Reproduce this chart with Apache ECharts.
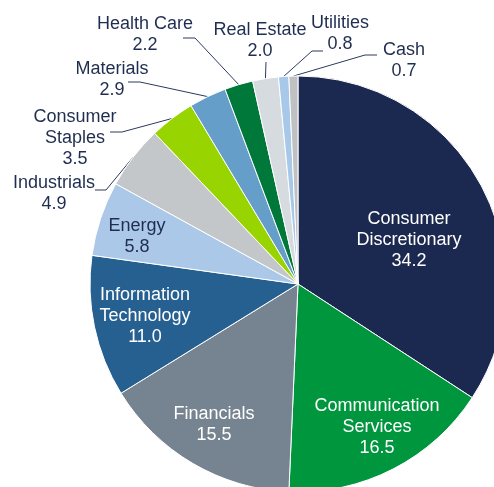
<!DOCTYPE html>
<html>
<head>
<meta charset="utf-8">
<script src="https://cdn.jsdelivr.net/npm/echarts@6/dist/echarts.min.js"></script>
<style>
  html, body { margin: 0; padding: 0; background: #ffffff; }
  #chart { width: 494px; height: 487px; }
</style>
</head>
<body>
<div id="chart"></div>
<script>
  // sector weights, clockwise from 12 o'clock
  var sectors = ['Consumer Discretionary', 'Communication Services', 'Financials', 'Information Technology',
    'Energy', 'Industrials', 'Consumer Staples', 'Materials', 'Health Care', 'Real Estate', 'Utilities', 'Cash'];
  var weights = [34.2, 16.5, 15.5, 11.0, 5.8, 4.9, 3.5, 2.9, 2.2, 2.0, 0.8, 0.7];
  var labelText = ['Consumer\nDiscretionary', 'Communication\nServices', 'Financials', 'Information\nTechnology',
    'Energy', 'Industrials', 'Consumer\nStaples', 'Materials', 'Health Care', 'Real Estate', 'Utilities', 'Cash'];

  var colors = ['#1b2951', '#00963d', '#768491', '#266091', '#abc8e8', '#c4c7ca',
    '#97d400', '#649ec9', '#00783a', '#d6dbe0', '#a8c8ea', '#bfc1c3'];
  var insideCount = 5;
  var darkText = '#1f2d50';

  // label centre [x, y] and, for outside ones, leader elbow [x, y] + tail end x
  var labelPos = [
    [409, 240], [377, 427], [214, 425], [145, 316], [137, 237],
    [54, 194, 106, 190, 95],
    [75, 138, 122, 132, 110],
    [112, 80, 140, 82, 128],
    [145, 35, 195, 38, 183],
    [260, 41, 266, 62, 266],
    [340, 34, 312, 51, 323],
    [404, 61, 365, 55, 377]
  ];

  var myChart = echarts.init(document.getElementById('chart'));

  var data = sectors.map(function (name, i) {
    var inside = i < insideCount;
    return {
      name: name,
      value: weights[i],
      itemStyle: { color: colors[i] },
      label: {
        position: inside ? 'inside' : 'outside',
        color: (inside && i != 4) ? '#ffffff' : darkText
      },
      labelLine: { show: !inside }
    };
  });

  var option = {
    animation: false,
    series: [
      {
        type: 'pie',
        center: [298, 284],
        radius: 208,
        startAngle: 90,
        clockwise: true,
        avoidLabelOverlap: false,
        itemStyle: { borderColor: '#ffffff', borderWidth: 1 },
        label: {
          fontFamily: 'Liberation Sans, Arial, sans-serif',
          fontSize: 18,
          lineHeight: 21,
          align: 'center',
          formatter: function (p) {
            return labelText[p.dataIndex] + '\n' + p.value.toFixed(1);
          }
        },
        labelLine: {
          lineStyle: { color: '#2a3a5c', width: 1 }
        },
        labelLayout: function (p) {
          var pos = labelPos[p.dataIndex];
          var res = { x: pos[0], y: pos[1], align: 'center', verticalAlign: 'middle' };
          if (pos.length > 2 && p.labelLinePoints) {
            var start = p.labelLinePoints[0];
            res.labelLinePoints = [start, [pos[2], pos[3]], [pos[4], pos[3]]];
          }
          return res;
        },
        data: data
      }
    ]
  };
  myChart.setOption(option);
</script>
</body>
</html>
